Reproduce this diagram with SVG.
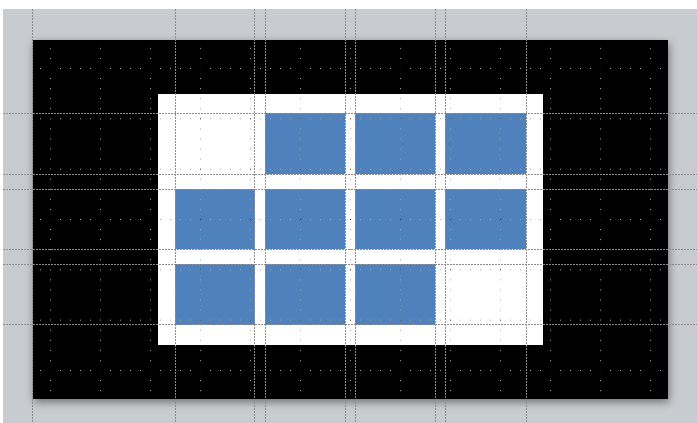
<svg xmlns="http://www.w3.org/2000/svg" width="697" height="423" viewBox="0 0 697 423">
  <defs>
    <style>
      .box { fill: #4f81bd; }
      .guide { stroke: #8c8c8c; stroke-width: 1; stroke-dasharray: 2 1; fill: none; }
      .dots { mix-blend-mode: difference; }
    </style>
    <filter id="shadow" x="-10%" y="-10%" width="120%" height="120%">
      <feDropShadow dx="1" dy="3" stdDeviation="4" flood-color="#000" flood-opacity="0.45"/>
    </filter>
    <pattern id="hdots" patternUnits="userSpaceOnUse" x="0" y="68" width="10" height="50.33">
      <rect x="0" y="0" width="1" height="1" fill="#a8a8a8"/>
    </pattern>
    <pattern id="vdots" patternUnits="userSpaceOnUse" x="0" y="68" width="50" height="10.066">
      <rect x="0" y="0" width="1" height="1" fill="#a8a8a8"/>
    </pattern>
    <clipPath id="slideClip">
      <rect x="33" y="40" width="635" height="359"/>
    </clipPath>
  </defs>

  <!-- window background -->
  <rect x="0" y="0" width="697" height="423" fill="#ffffff"/>
  <rect x="3" y="9" width="694" height="414" fill="#c8cbcf"/>

  <!-- slide -->
  <g id="slide">
    <rect x="33" y="40" width="635" height="359" fill="#000000" filter="url(#shadow)"/>
  </g>

  <!-- white panel -->
  <g id="panel">
    <rect x="158" y="94" width="385" height="251" fill="#ffffff"/>
  </g>

  <!-- grid of boxes -->
  <g id="box-r1c2"><rect class="box" x="265" y="113" width="80" height="61"/></g>
  <g id="box-r1c3"><rect class="box" x="355" y="113" width="80" height="61"/></g>
  <g id="box-r1c4"><rect class="box" x="445" y="113" width="81" height="61"/></g>
  <g id="box-r2c1"><rect class="box" x="175" y="189" width="80" height="60"/></g>
  <g id="box-r2c2"><rect class="box" x="265" y="189" width="80" height="60"/></g>
  <g id="box-r2c3"><rect class="box" x="355" y="189" width="80" height="60"/></g>
  <g id="box-r2c4"><rect class="box" x="445" y="189" width="81" height="60"/></g>
  <g id="box-r3c1"><rect class="box" x="175" y="264" width="80" height="61"/></g>
  <g id="box-r3c2"><rect class="box" x="265" y="264" width="80" height="61"/></g>
  <g id="box-r3c3"><rect class="box" x="355" y="264" width="80" height="61"/></g>

  <!-- grid dots -->
  <g id="grid" clip-path="url(#slideClip)">
    <rect class="dots" x="33" y="40" width="635" height="359" fill="url(#hdots)"/>
    <rect class="dots" x="33" y="40" width="635" height="359" fill="url(#vdots)"/>
  </g>

  <!-- guides -->
  <g id="connectors">
    <line class="guide" x1="32.5" y1="9" x2="32.5" y2="423"/>
    <line class="guide" x1="175.5" y1="9" x2="175.5" y2="423"/>
    <line class="guide" x1="254.5" y1="9" x2="254.5" y2="423"/>
    <line class="guide" x1="265.5" y1="9" x2="265.5" y2="423"/>
    <line class="guide" x1="345.5" y1="9" x2="345.5" y2="423"/>
    <line class="guide" x1="355.5" y1="9" x2="355.5" y2="423"/>
    <line class="guide" x1="435.5" y1="9" x2="435.5" y2="423"/>
    <line class="guide" x1="445.5" y1="9" x2="445.5" y2="423"/>
    <line class="guide" x1="526.5" y1="9" x2="526.5" y2="423"/>
    <line class="guide" x1="3" y1="113.5" x2="697" y2="113.5"/>
    <line class="guide" x1="3" y1="174.5" x2="697" y2="174.5"/>
    <line class="guide" x1="3" y1="189.5" x2="697" y2="189.5"/>
    <line class="guide" x1="3" y1="249.5" x2="697" y2="249.5"/>
    <line class="guide" x1="3" y1="264.5" x2="697" y2="264.5"/>
    <line class="guide" x1="3" y1="324.5" x2="697" y2="324.5"/>
  </g>
</svg>
